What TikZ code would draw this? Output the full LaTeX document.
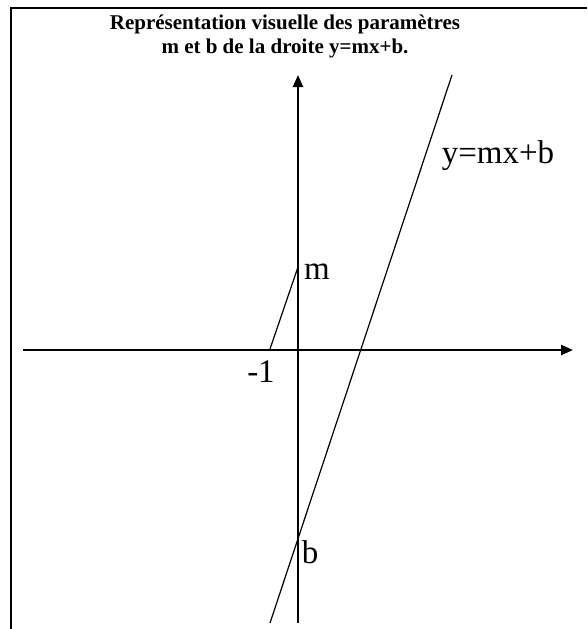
\documentclass[tikz,border=0pt]{standalone}
\usepackage{fontspec}
\setmainfont{Liberation Serif}
\usetikzlibrary{arrows.meta}
\tikzset{
  axis/.style={line width=2.4pt,-{Triangle[length=12pt,width=10pt]}},
  frameline/.style={line width=2pt},
  slant/.style={line width=1.2pt},
  lbl/.style={font=\fontsize{33}{38}\selectfont,inner sep=0pt},
  ttl/.style={font=\bfseries\fontsize{21}{24}\selectfont,align=center,inner sep=0pt}
}
\begin{document}
\begin{tikzpicture}[x=1pt,y=-1pt]
\useasboundingbox (0,0) rectangle (587,629);
\coordinate (fbl) at (11,629);
\coordinate (ftl) at (11,8);
\coordinate (ftr) at (587,8);
\draw[frameline] (fbl) -- (ftl) -- (ftr);
\node[ttl] (title) at (285,36) {Représentation visuelle des paramètres\\m et b de la droite y=mx+b.};
\coordinate (xl) at (23,350);
\coordinate (xr) at (573,350);
\coordinate (yb) at (298,623);
\coordinate (yt) at (298,75);
\draw[axis] (xl) -- (xr);
\draw[axis] (yb) -- (yt);
\coordinate (lb) at (270,623);
\coordinate (lt) at (452,75);
\draw[slant] (lb) -- (lt);
\coordinate (m1) at (270,349);
\coordinate (mm) at (298,267);
\draw[slant] (m1) -- (mm);
\node[lbl] (ml) at (317,272) {m};
\node[lbl] (n1) at (261,372) {-1};
\node[lbl] (bl) at (310,552) {b};
\node[lbl] (eq) at (498,156) {y=mx+b};
\end{tikzpicture}
\end{document}
